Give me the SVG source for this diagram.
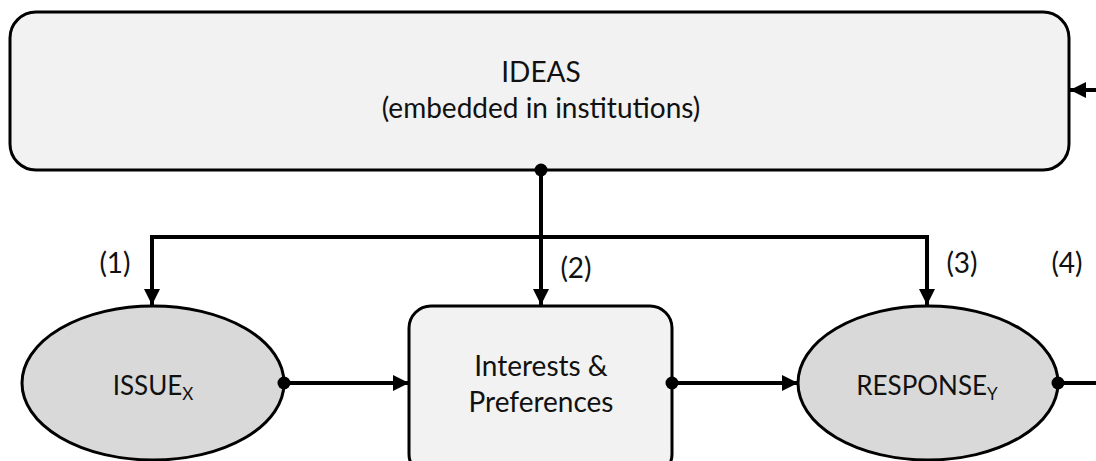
<svg xmlns="http://www.w3.org/2000/svg" width="1096" height="461" viewBox="0 0 1096 461">
<defs>
<style>
.t{font-family:Lato,"Open Sans","Liberation Sans",sans-serif;font-size:28px;fill:#111;text-anchor:middle}
.c{font-size:26px}
.s{font-size:17px}
.box{fill:#f2f2f2;stroke:#000;stroke-width:3}
.ell{fill:#d9d9d9;stroke:#000;stroke-width:3}
.ln{fill:none;stroke:#000;stroke-width:4}
</style>
<marker id="ah" viewBox="0 0 10 10" refX="10" refY="5" markerWidth="4" markerHeight="4" orient="auto" markerUnits="strokeWidth">
<path d="M0,0 L10,5 L0,10 z" fill="#000"/>
</marker>
</defs>
<rect width="1096" height="461" fill="#fff"/>
<g id="ideas">
<rect class="box" x="10" y="12" width="1059" height="158" rx="26"/>
<text class="t" x="541" y="82">IDEAS</text>
<text class="t" x="541" y="118">(embedded in institutions)</text>
</g>
<g id="issue">
<ellipse class="ell" cx="153" cy="383" rx="131" ry="77"/>
<text class="t c" x="153" y="395">ISSUE<tspan class="s" dy="5">X</tspan></text>
</g>
<g id="interests">
<rect class="box" x="409" y="306" width="263" height="170" rx="22"/>
<text class="t" x="541" y="376">Interests &amp;</text>
<text class="t" x="541" y="412">Preferences</text>
</g>
<g id="response">
<ellipse class="ell" cx="928" cy="383" rx="130" ry="77"/>
<text class="t c" x="927" y="395">RESPONSE<tspan class="s" dy="5">Y</tspan></text>
</g>
<g id="labels">
<text class="t" x="115" y="273">(1)</text>
<text class="t" x="576" y="278">(2)</text>
<text class="t" x="962" y="273">(3)</text>
<text class="t" x="1067" y="273">(4)</text>
</g>
<g id="connectors">
<path class="ln" d="M541,170 V305" marker-end="url(#ah)"/>
<path class="ln" d="M541,237 H152 V305" marker-end="url(#ah)"/>
<path class="ln" d="M541,237 H927 V305" marker-end="url(#ah)"/>
<path class="ln" d="M284,383 H409" marker-end="url(#ah)"/>
<path class="ln" d="M672,383 H798" marker-end="url(#ah)"/>
<path class="ln" d="M1058,383 H1096"/>
<path class="ln" d="M1096,90 H1070" marker-end="url(#ah)"/>
<circle cx="541" cy="170" r="6.5"/>
<circle cx="284" cy="383" r="6.5"/>
<circle cx="672" cy="383" r="6.5"/>
<circle cx="1058" cy="383" r="6.5"/>
</g>
</svg>
